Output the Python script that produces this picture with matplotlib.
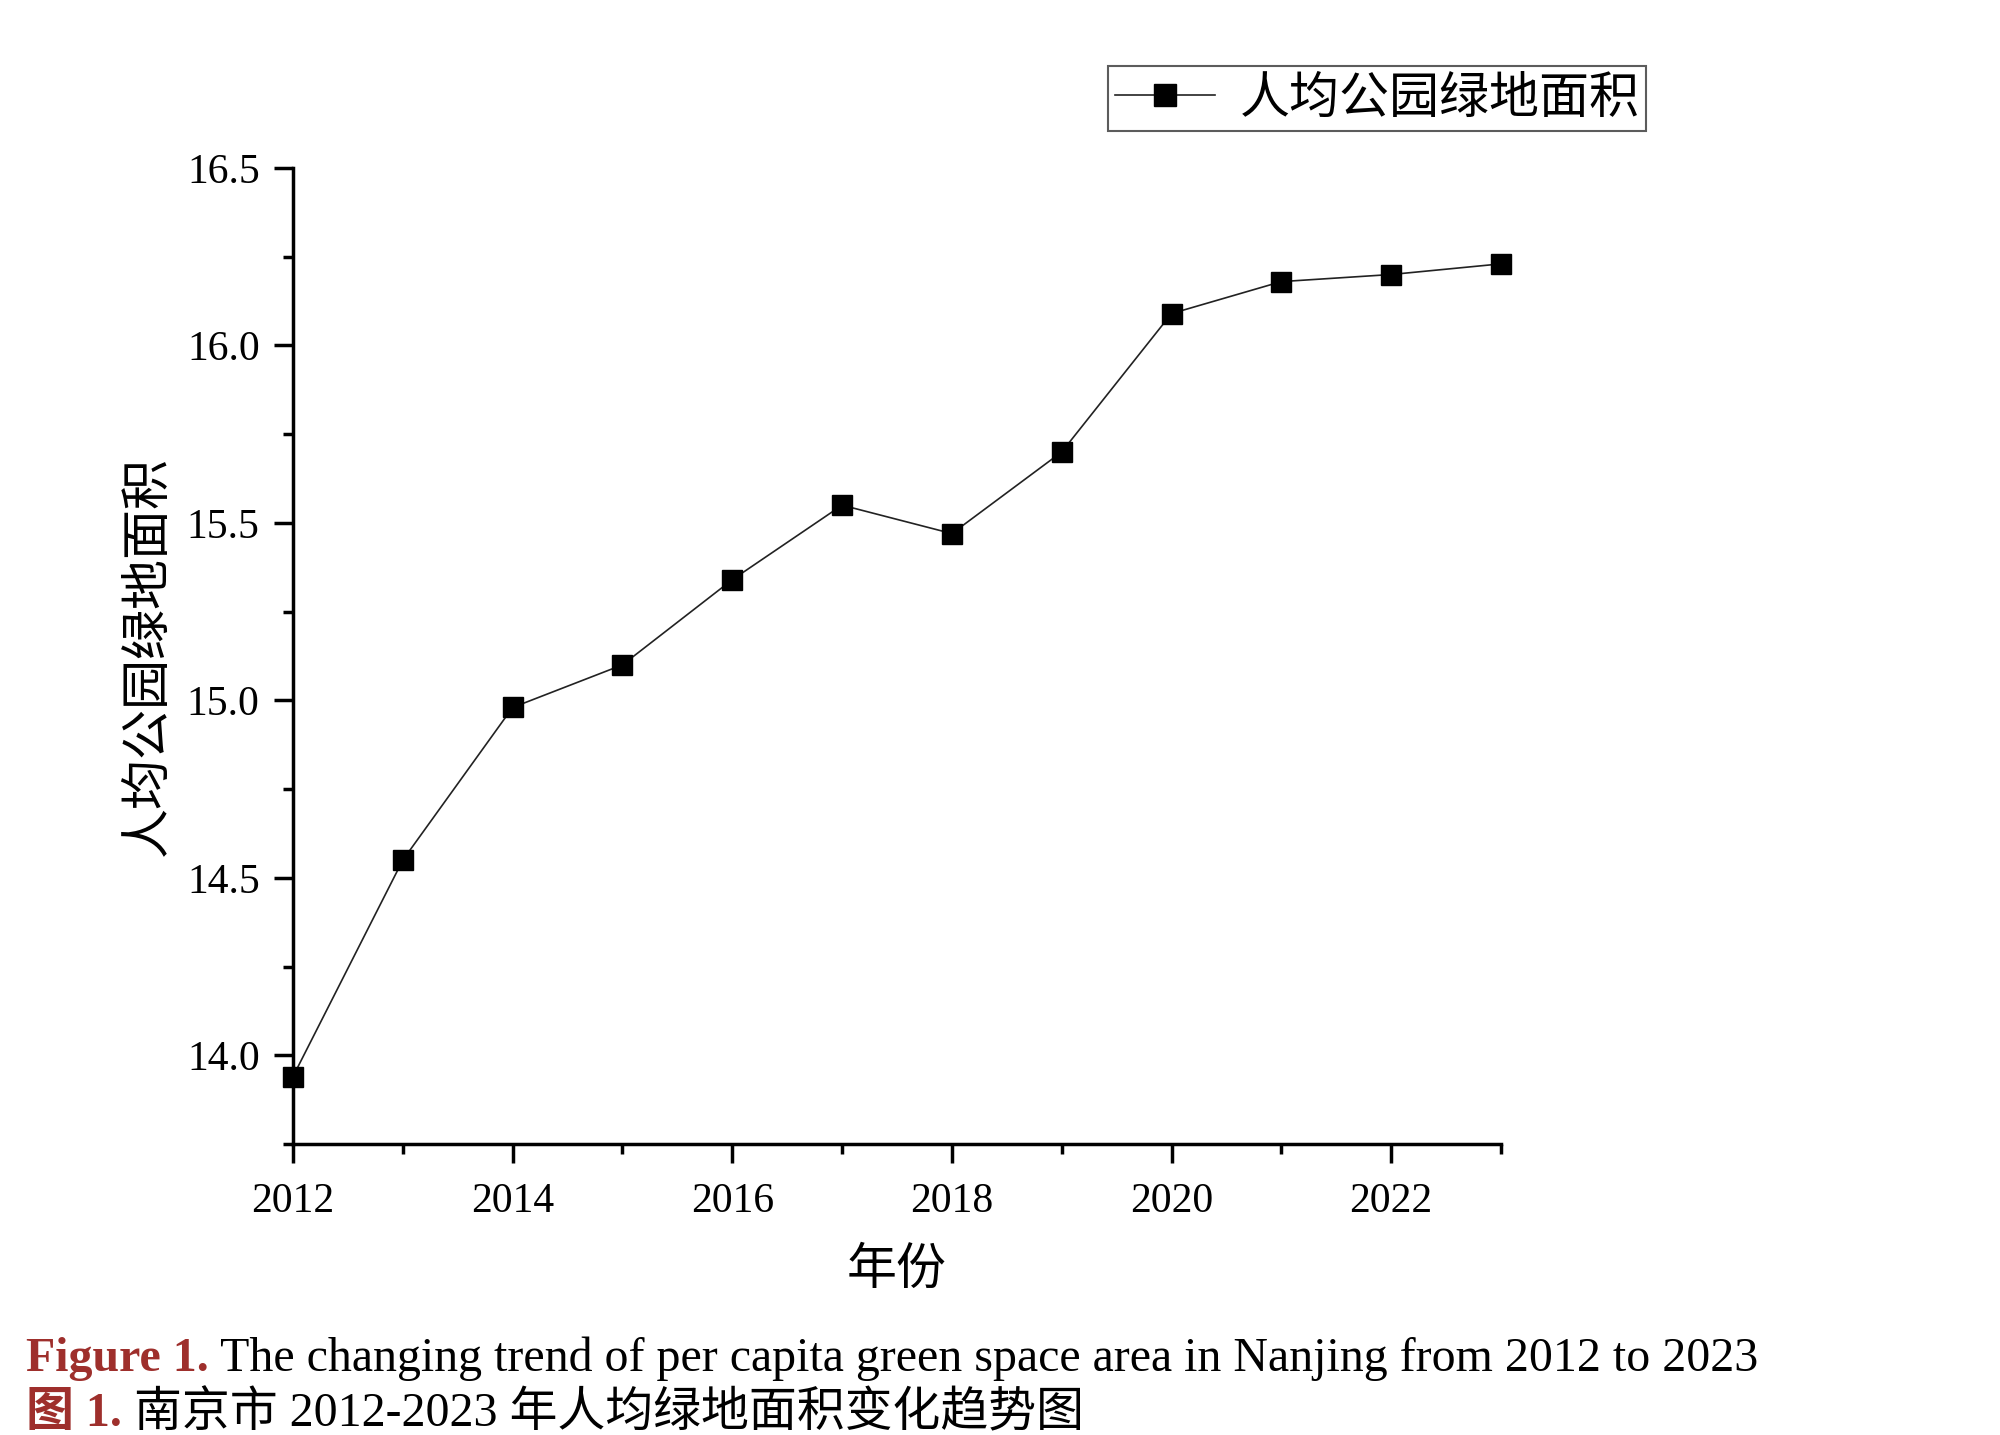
import matplotlib.pyplot as plt
from matplotlib.ticker import MultipleLocator, FormatStrFormatter

# 数据：南京市人均公园绿地面积
years = [2012, 2013, 2014, 2015, 2016, 2017, 2018, 2019, 2020, 2021, 2022, 2023]
area = [13.94, 14.55, 14.98, 15.10, 15.34, 15.55, 15.47, 15.70, 16.09, 16.18, 16.20, 16.23]

series_label = '人均公园绿地面积'
x_label = '年份'
y_label = '人均公园绿地面积'
cap_en_head = 'Figure 1.'
cap_en_body = ' The changing trend of per capita green space area in Nanjing from 2012 to 2023'
cap_zh_head = '图 1.'
cap_zh_body = ' 南京市 2012-2023 年人均绿地面积变化趋势图'

serif = ['Liberation Serif', 'Noto Sans CJK SC']
cjk = ['Noto Sans CJK SC', 'DejaVu Sans']
red = '#9E2F2C'

fig = plt.figure(figsize=(20, 14.35), dpi=100)
ax = fig.add_axes([0.1465, 0.2028, 0.604, 0.6801])

ax.plot(years, area, color='#222222', linewidth=1.2, marker='s', markersize=15,
        markerfacecolor='black', markeredgecolor='black', label=series_label,
        clip_on=False, zorder=3)

ax.set_xlim(2012, 2023)
ax.set_ylim(13.75, 16.5)

for s in ['top', 'right']:
    ax.spines[s].set_visible(False)
for s in ['left', 'bottom']:
    ax.spines[s].set_linewidth(2.5)

ax.xaxis.set_major_locator(MultipleLocator(2))
ax.xaxis.set_minor_locator(MultipleLocator(1))
ax.yaxis.set_major_locator(MultipleLocator(0.5))
ax.yaxis.set_minor_locator(MultipleLocator(0.25))
ax.yaxis.set_major_formatter(FormatStrFormatter('%.1f'))

ax.tick_params(axis='both', which='major', direction='out', length=14, width=2.5,
               labelsize=30)
ax.tick_params(axis='both', which='minor', direction='out', length=7, width=2.5)
ax.tick_params(axis='y', which='major', pad=10)
ax.tick_params(axis='x', which='major', pad=14)
for lab in ax.get_xticklabels() + ax.get_yticklabels():
    lab.set_family(serif)

ax.set_xlabel(x_label, fontsize=36, family=cjk)
ax.set_ylabel(y_label, fontsize=36, family=cjk)
ax.xaxis.set_label_coords(0.5, -0.102)
ax.yaxis.set_label_coords(-0.099, 0.5)

leg = ax.legend(loc='upper left', bbox_to_anchor=(0.554, 0.954),
                bbox_transform=fig.transFigure, fancybox=False, frameon=True,
                edgecolor='#333333', prop={'family': cjk, 'size': 36},
                handlelength=2.0, handletextpad=0.5, borderpad=0.13,
                borderaxespad=0, markerscale=1.1)
leg.get_frame().set_linewidth(1.5)

# 图注
t1 = fig.text(0.013, 1 - 1371 / 1435, cap_en_head, color=red, fontsize=34.5,
              fontweight='bold', family=serif, va='baseline')
ax.annotate(cap_en_body, xy=(1, 0), xycoords=t1, va='bottom', ha='left',
            fontsize=34.5, family=serif, annotation_clip=False)

t2 = fig.text(0.013, 1 - 1426 / 1435, cap_zh_head, color=red, fontsize=34.5,
              fontweight='bold', family=serif, va='baseline')
ax.annotate(cap_zh_body, xy=(1, 0), xycoords=t2, va='bottom', ha='left',
            fontsize=34.5, family=serif, annotation_clip=False)

fig.savefig('out.png', dpi=100)
